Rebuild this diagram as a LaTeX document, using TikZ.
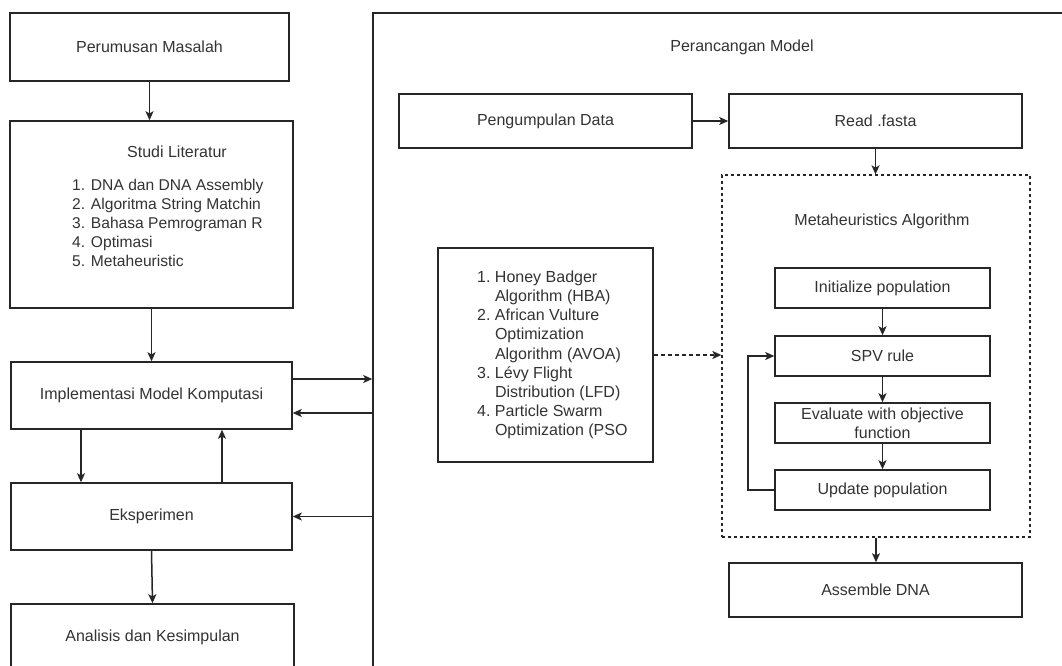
\documentclass[tikz,border=0pt]{standalone}
\usepackage{fontspec}
\setmainfont{Liberation Sans}
\usetikzlibrary{arrows.meta}
\definecolor{linec}{HTML}{262626}
\definecolor{textc}{HTML}{333333}
\newcommand\fsz{\fontsize{16}{19.2}\selectfont}
\newcommand\lsz{\fontsize{15.6}{19}\selectfont}
\begin{document}
\begin{tikzpicture}[x=1pt,y=-1pt,
  every node/.style={font=\fsz, text=textc},
  box/.style={draw=linec, line width=1.5pt, rectangle, inner sep=0pt, align=center},
  dbox/.style={draw=linec, line width=1.3pt, rectangle, dash pattern=on 3pt off 3pt, inner sep=0pt},
  lbl/.style={inner sep=0pt, align=left},
  arr/.style={draw=linec, line width=1.5pt, -{Stealth[length=9pt,width=8pt,inset=2.2pt]}},
  darr/.style={arr, dash pattern=on 4pt off 3pt}]
\useasboundingbox (0,0) rectangle (1062,666);
\fill[white] (0,0) rectangle (1062,666);
\clip (0,0) rectangle (1062,666);

% left column
\node[box, minimum width=279pt, minimum height=68pt] (perumusan) at (149.5,47) {Perumusan Masalah};
\node[box, minimum width=283pt, minimum height=187pt] (studi) at (151.5,214.5) {};
\node[lbl] (studiT) at (177,152) {Studi Literatur};
\node[lbl, anchor=west, font=\lsz] (studiL) at (72,223) {1. DNA dan DNA Assembly\\2. Algoritma String Matchin\\3. Bahasa Pemrograman R\\4. Optimasi\\5. Metaheuristic};
\node[box, minimum width=281pt, minimum height=67pt] (impl) at (151.5,395.5) {Implementasi Model Komputasi};
\node[box, minimum width=281pt, minimum height=67pt] (eksp) at (151.5,516.5) {Eksperimen};
\node[box, minimum width=283pt, minimum height=66pt] (anal) at (152.5,637) {Analisis dan Kesimpulan};

% frame
\node[box, minimum width=738pt, minimum height=707pt] (frame) at (742,366.5) {};
\node[lbl] (frameT) at (742,47) {Perancangan Model};

\node[box, minimum width=293pt, minimum height=54pt] (pengumpulan) at (545.5,121) {Pengumpulan Data};
\node[box, minimum width=293pt, minimum height=54pt] (read) at (875.5,121) {Read .fasta};

\node[box, minimum width=215pt, minimum height=214pt] (honey) at (545.5,355) {};
\node[lbl, anchor=west] (honeyL) at (477,355) {\makebox[17.8pt][l]{1.}Honey Badger\\\hspace*{17.8pt}Algorithm (HBA)\\\makebox[17.8pt][l]{2.}African Vulture\\\hspace*{17.8pt}Optimization\\\hspace*{17.8pt}Algorithm (AVOA)\\\makebox[17.8pt][l]{3.}L\'evy Flight\\\hspace*{17.8pt}Distribution (LFD)\\\makebox[17.8pt][l]{4.}Particle Swarm\\\hspace*{17.8pt}Optimization (PSO};

\node[dbox, minimum width=308pt, minimum height=362pt] (meta) at (876,356) {};
\node[lbl] (metaT) at (882,221) {Metaheuristics Algorithm};
\node[box, minimum width=215pt, minimum height=40pt] (init) at (882.5,288) {Initialize population};
\node[box, minimum width=215pt, minimum height=40pt] (spv) at (882.5,356) {SPV rule};
\node[box, minimum width=215pt, minimum height=40pt] (eval) at (882.5,423) {Evaluate with objective\\function};
\node[box, minimum width=215pt, minimum height=40pt] (update) at (882.5,490) {Update population};
\node[box, minimum width=293pt, minimum height=54pt] (assemble) at (875.5,590) {Assemble DNA};

% helper coordinates
\coordinate (xa) at (81,0);
\coordinate (xb) at (222,0);
\coordinate (ya) at (0,379);
\coordinate (yb) at (0,413);
\coordinate (loopx) at (748,0);

% connectors
\draw[arr] (perumusan.south) -- (studi.north -| perumusan.south);
\draw[arr] (studi.south) -- (impl.north);
\draw[arr] (impl.south -| xa) -- (eksp.north -| xa);
\draw[arr] (eksp.north -| xb) -- (impl.south -| xb);
\draw[arr] (eksp.south) -- (anal.north);
\draw[arr] (impl.east |- ya) -- (frame.west |- ya);
\draw[arr] (frame.west |- yb) -- (impl.east |- yb);
\draw[arr] (frame.west |- eksp.east) -- (eksp.east);
\draw[arr] (pengumpulan.east) -- (read.west);
\draw[arr] (read.south) -- (meta.north -| read.south);
\draw[darr] (honey.east) -- (honey.east -| meta.west);
\draw[arr] (init.south) -- (spv.north);
\draw[arr] (spv.south) -- (eval.north);
\draw[arr] (eval.south) -- (update.north);
\draw[arr] (update.west) -- (update.west -| loopx) |- (spv.west);
\draw[arr] (meta.south) -- (assemble.north -| meta.south);
\end{tikzpicture}
\end{document}
